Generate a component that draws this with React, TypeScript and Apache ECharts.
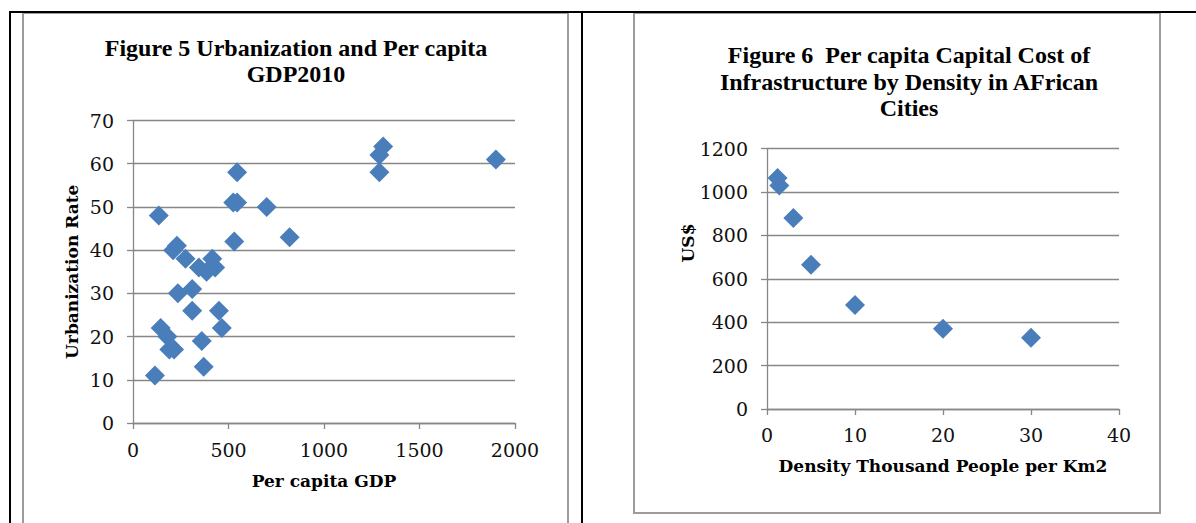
import React, { useEffect, useRef } from "react";
import * as echarts from "echarts";

// Figure 5: Urbanization vs per capita GDP (2010)
const gdpValues = [1900, 1310, 1290, 1290, 545, 525, 545, 700, 135, 820, 530, 230, 210, 275, 415, 345, 430, 385, 235, 310, 310, 450, 465, 145, 180, 360, 190, 215, 370, 115];
const urbanRates = [61, 64, 62, 58, 58, 51, 51, 50, 48, 43, 42, 41, 40, 38, 38, 36, 36, 35, 30, 31, 26, 26, 22, 22, 20, 19, 17, 17, 13, 11];

// Figure 6: per capita capital cost of infrastructure by density
const densityValues = [1.2, 1.4, 3, 5, 10, 20, 30];
const costValues = [1065, 1030, 880, 665, 480, 370, 328];

const fig5Title = "Figure 5 Urbanization and Per capita\nGDP2010";
const fig6Title = "Figure 6  Per capita Capital Cost of\nInfrastructure by Density in AFrican\nCities";
const fig5XName = "Per capita GDP";
const fig5YName = "Urbanization Rate";
const fig6XName = "Density Thousand People per Km2";
const fig6YName = "US$";

const GRID_COLOR = "#878787";
const MARKER = "#4a7ebb";
const TICK_FONT = "DejaVu Serif";

export default function App() {
  const ref = useRef<HTMLDivElement>(null);
  useEffect(() => {
    if (!ref.current) return;
    const chart = echarts.init(ref.current, undefined, { renderer: "svg" });
    const axisLabel = { color: "#111", fontFamily: TICK_FONT, fontSize: 19, formatter: (v: number) => String(v) };
    const axisLine = { show: true, lineStyle: { color: GRID_COLOR, width: 1.3 } };
    const axisTick = { show: true, inside: false, length: 6, lineStyle: { color: GRID_COLOR, width: 1.3 } };
    const nameStyle = { fontFamily: TICK_FONT, fontWeight: "bold", fontSize: 17, color: "#000" };
    chart.setOption({
      animation: false,
      backgroundColor: "#fff",
      grid: [
        { left: 133, top: 120.5, width: 382, height: 302.5 },
        { left: 767, top: 148.7, width: 352, height: 260.3 },
      ],
      xAxis: [
        {
          gridIndex: 0, type: "value", min: 0, max: 2000, interval: 500,
          axisLine, axisTick, splitLine: { show: false },
          axisLabel: { ...axisLabel, margin: 17 },
          name: fig5XName, nameLocation: "middle", nameGap: 49, nameTextStyle: nameStyle,
        },
        {
          gridIndex: 1, type: "value", min: 0, max: 40, interval: 10,
          axisLine, axisTick, splitLine: { show: false },
          axisLabel: { ...axisLabel, margin: 16 },
          name: fig6XName, nameLocation: "middle", nameGap: 48, nameTextStyle: nameStyle,
        },
      ],
      yAxis: [
        {
          gridIndex: 0, type: "value", min: 0, max: 70, interval: 10,
          axisLine, axisTick,
          splitLine: { show: true, lineStyle: { color: GRID_COLOR, width: 1.3 } },
          axisLabel: { ...axisLabel, margin: 19 },
          name: fig5YName, nameLocation: "middle", nameGap: 53, nameTextStyle: nameStyle,
        },
        {
          gridIndex: 1, type: "value", min: 0, max: 1200, interval: 200,
          axisLine, axisTick,
          splitLine: { show: true, lineStyle: { color: GRID_COLOR, width: 1.3 } },
          axisLabel: { ...axisLabel, margin: 19 },
        },
      ],
      series: [
        {
          type: "scatter", xAxisIndex: 0, yAxisIndex: 0,
          symbol: "diamond", symbolSize: 20,
          itemStyle: { color: MARKER, opacity: 1 },
          data: gdpValues.map((g, i) => [g, urbanRates[i]]),
        },
        {
          type: "scatter", xAxisIndex: 1, yAxisIndex: 1,
          symbol: "diamond", symbolSize: 20,
          itemStyle: { color: MARKER, opacity: 1 },
          data: densityValues.map((d, i) => [d, costValues[i]]),
        },
      ],
      graphic: [
        // grey chart frames
        { type: "rect", z: -1, shape: { x: 23, y: 13, width: 545, height: 530 }, style: { fill: "none", stroke: "#9c9c9c", lineWidth: 2 } },
        { type: "rect", z: -1, shape: { x: 634, y: 13, width: 526, height: 500 }, style: { fill: "none", stroke: "#9c9c9c", lineWidth: 2 } },
        // black table borders
        { type: "line", shape: { x1: 9, y1: 12, x2: 1196, y2: 12 }, style: { stroke: "#000", lineWidth: 2 } },
        { type: "line", shape: { x1: 10, y1: 11, x2: 10, y2: 523 }, style: { stroke: "#000", lineWidth: 2 } },
        { type: "line", shape: { x1: 582, y1: 11, x2: 582, y2: 523 }, style: { stroke: "#000", lineWidth: 2 } },
        // titles
        {
          type: "text", x: 296, y: 35,
          style: { text: fig5Title, align: "center", verticalAlign: "top", fontFamily: "Liberation Serif", fontWeight: "bold", fontSize: 24, lineHeight: 26, fill: "#000" },
        },
        {
          type: "text", x: 909, y: 42,
          style: { text: fig6Title, align: "center", verticalAlign: "top", fontFamily: "Liberation Serif", fontWeight: "bold", fontSize: 24, lineHeight: 26.5, fill: "#000" },
        },
        {
          type: "text", x: 688, y: 243, rotation: Math.PI / 2,
          style: { text: fig6YName, align: "center", verticalAlign: "middle", fontFamily: TICK_FONT, fontWeight: "bold", fontSize: 17, fill: "#000" },
        },
      ],
    });
    return () => chart.dispose();
  }, []);
  return <div ref={ref} style={{ position: "absolute", left: 0, top: 0, width: 1196, height: 523 }} />;
}
